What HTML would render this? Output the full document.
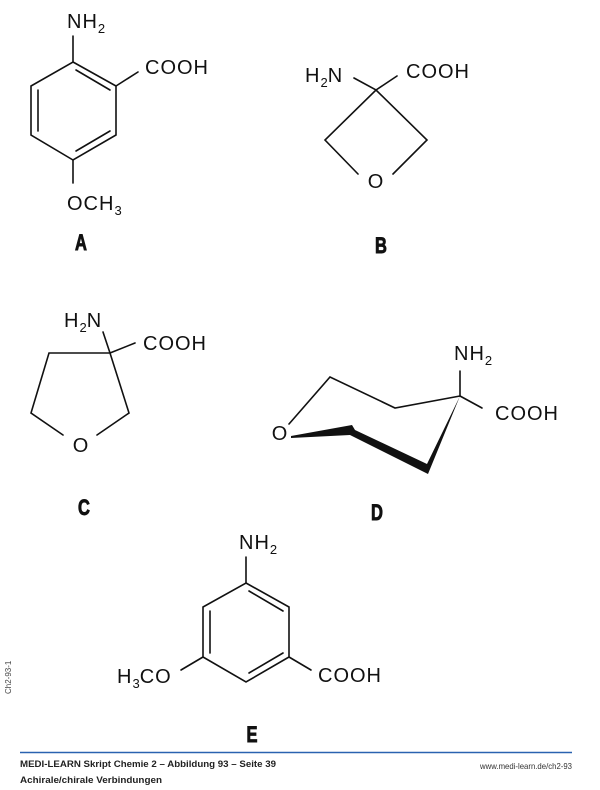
<!DOCTYPE html>
<html><head><meta charset="utf-8"><style>
html,body{margin:0;padding:0;background:#fff;}
svg{display:block;}
.t{font-family:"Liberation Sans",Arial,sans-serif;font-size:20px;fill:#111;letter-spacing:1px;}
.s{font-size:13px;letter-spacing:0;}
.l{font-family:"Liberation Sans",sans-serif;font-weight:bold;font-size:22px;fill:#111;stroke:#111;stroke-width:0.9;text-anchor:middle;}
.f{font-family:"Liberation Sans",Arial,sans-serif;font-weight:bold;font-size:9.5px;fill:#222;}
</style></head><body>
<svg width="600" height="790" viewBox="0 0 600 790" xmlns="http://www.w3.org/2000/svg">
<g stroke="#111" stroke-width="1.6" fill="none" stroke-linecap="round">
<!-- A -->
<polygon points="73,62 116,86 116,135 73,160 31,135 31,86"/>
<line x1="76" y1="70" x2="110" y2="90"/>
<line x1="38" y1="90" x2="38" y2="131"/>
<line x1="110" y1="131" x2="76" y2="151"/>
<line x1="73" y1="62" x2="73" y2="36"/>
<line x1="116" y1="86" x2="138" y2="72"/>
<line x1="73" y1="160" x2="73" y2="183"/>
<!-- B -->
<polyline points="354,78 376,90 397,76"/>
<polyline points="358,174 325,140 376,90 427,140 393,174"/>
<!-- C -->
<line x1="103" y1="332" x2="110" y2="353"/>
<line x1="110" y1="353" x2="135" y2="343"/>
<polyline points="63,435 31,413 49,353 110,353 129,413 97,435"/>
<!-- D -->
<polyline points="289,424 330,377 395,408 460,396"/>
<line x1="460" y1="396" x2="460" y2="371"/>
<line x1="460" y1="396" x2="482" y2="408"/>
<!-- E -->
<polygon points="246,583 289,607 289,657 246,682 203,657 203,607"/>
<line x1="249" y1="591" x2="283" y2="611"/>
<line x1="210" y1="611" x2="210" y2="653"/>
<line x1="283" y1="653" x2="249" y2="673"/>
<line x1="246" y1="583" x2="246" y2="557"/>
<line x1="289" y1="657" x2="311" y2="670"/>
<line x1="203" y1="657" x2="181" y2="670"/>
</g>
<polygon points="291,436 352,425 355,430 427,464 460,396 428,474 350,435 291,438" fill="#111"/>
<line x1="20" y1="752.5" x2="572" y2="752.5" stroke="#2a62b0" stroke-width="1.4"/>
<!-- text A -->
<text class="t" x="67" y="28">NH<tspan class="s" dy="5">2</tspan></text>
<text class="t" x="145" y="74">COOH</text>
<text class="t" x="67" y="210">OCH<tspan class="s" dy="5">3</tspan></text>
<text class="l" transform="translate(81,250) scale(0.75,1)">A</text>
<!-- B -->
<text class="t" x="305" y="82">H<tspan class="s" dy="5">2</tspan><tspan dy="-5">N</tspan></text>
<text class="t" x="406" y="78">COOH</text>
<text class="t" x="376" y="188" text-anchor="middle">O</text>
<text class="l" transform="translate(381,253) scale(0.75,1)">B</text>
<!-- C -->
<text class="t" x="64" y="327">H<tspan class="s" dy="5">2</tspan><tspan dy="-5">N</tspan></text>
<text class="t" x="143" y="350">COOH</text>
<text class="t" x="81" y="452" text-anchor="middle">O</text>
<text class="l" transform="translate(84,515) scale(0.75,1)">C</text>
<!-- D -->
<text class="t" x="454" y="360">NH<tspan class="s" dy="5">2</tspan></text>
<text class="t" x="495" y="420">COOH</text>
<text class="t" x="280" y="440" text-anchor="middle">O</text>
<text class="l" transform="translate(377,520) scale(0.75,1)">D</text>
<!-- E -->
<text class="t" x="239" y="549">NH<tspan class="s" dy="5">2</tspan></text>
<text class="t" x="318" y="682">COOH</text>
<text class="t" x="117" y="683">H<tspan class="s" dy="5">3</tspan><tspan dy="-5">CO</tspan></text>
<text class="l" transform="translate(252,742) scale(0.75,1)">E</text>
<!-- footer -->
<text class="f" x="20" y="767" textLength="256" lengthAdjust="spacingAndGlyphs">MEDI-LEARN Skript Chemie 2 – Abbildung 93 – Seite 39</text>
<text class="f" x="20" y="783" textLength="142" lengthAdjust="spacingAndGlyphs">Achirale/chirale Verbindungen</text>
<text x="572" y="769" text-anchor="end" font-family="Liberation Sans,sans-serif" font-size="8.5" fill="#333" textLength="92" lengthAdjust="spacingAndGlyphs">www.medi-learn.de/ch2-93</text>
<text transform="translate(11,694) rotate(-90)" font-family="Liberation Sans,sans-serif" font-size="8" fill="#444">Ch2-93-1</text>
</svg>
</body></html>
